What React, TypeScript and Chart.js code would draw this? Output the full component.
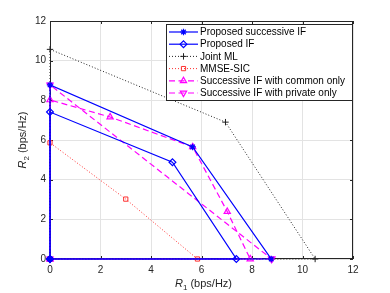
import React, { useEffect, useRef } from "react";
import { Chart, registerables } from "chart.js";
import { drawPoint } from "chart.js/helpers";

Chart.register(...registerables);

const seriesNames = [
  "Proposed successive IF",
  "Proposed IF",
  "Joint ML",
  "MMSE-SIC",
  "Successive IF with common only",
  "Successive IF with private only",
];

const succIF_R1 = [0, 0, 5.65, 8.76, 0];
const succIF_R2 = [0, 8.78, 5.65, 0, 0];

const propIF_R1 = [0, 0, 4.85, 7.38, 0];
const propIF_R2 = [0, 7.41, 4.88, 0, 0];

const jointML_R1 = [0, 0, 6.95, 10.5, 0];
const jointML_R2 = [0, 10.57, 6.9, 0, 0];

const mmse_R1 = [0, 0, 3.0, 5.84, 0];
const mmse_R2 = [0, 5.86, 3.02, 0, 0];

const common_R1 = [0, 0, 2.38, 5.65, 7.02, 7.93, 0];
const common_R2 = [0, 8.02, 7.16, 5.65, 2.39, 0, 0];

const private_R1 = [8.78, 0, 0, 8.78];
const private_R2 = [0, 0, 8.78, 0];

const axisTicks = [0, 2, 4, 6, 8, 10, 12];

const pts = (xs: number[], ys: number[]) => xs.map((x, i) => ({ x, y: ys[i] }));

const FONT = "'Liberation Sans', Arial, Helvetica, sans-serif";

export default function App() {
  const ref = useRef<HTMLCanvasElement | null>(null);

  useEffect(() => {
    document.body.style.margin = "0";
    const canvas = ref.current;
    if (!canvas) return;

    const common = { clip: 6 };
    const datasets: any[] = [
      {
        ...common,
        label: seriesNames[0],
        data: pts(succIF_R1, succIF_R2),
        borderColor: "#0000ff",
        backgroundColor: "#0000ff",
        borderWidth: 1.2,
        pointStyle: "star",
        pointRadius: 3.2,
        pointBorderWidth: 1.2,
        pointRotation: 0,
      },
      {
        ...common,
        label: seriesNames[1],
        data: pts(propIF_R1, propIF_R2),
        borderColor: "#0000ff",
        backgroundColor: "rgba(0,0,0,0)",
        borderWidth: 1.2,
        pointStyle: "rectRot",
        pointRadius: 3.4,
        pointBorderWidth: 1.2,
        pointRotation: 0,
      },
      {
        ...common,
        label: seriesNames[2],
        data: pts(jointML_R1, jointML_R2),
        borderColor: "#222222",
        backgroundColor: "#222222",
        borderWidth: 1,
        borderDash: [1, 2],
        pointStyle: "cross",
        pointRadius: 3.2,
        pointBorderWidth: 1,
        pointRotation: 0,
      },
      {
        ...common,
        label: seriesNames[3],
        data: pts(mmse_R1, mmse_R2),
        borderColor: "#ff3030",
        backgroundColor: "rgba(0,0,0,0)",
        borderWidth: 1,
        borderDash: [1, 2],
        pointStyle: "rect",
        pointRadius: 3,
        pointBorderWidth: 1,
        pointRotation: 0,
      },
      {
        ...common,
        label: seriesNames[4],
        data: pts(common_R1, common_R2),
        borderColor: "#ff00ff",
        backgroundColor: "rgba(0,0,0,0)",
        borderWidth: 1.2,
        borderDash: [6, 3.5],
        pointStyle: "triangle",
        pointRadius: 3.6,
        pointBorderWidth: 1.2,
        pointRotation: 0,
      },
      {
        ...common,
        label: seriesNames[5],
        data: pts(private_R1, private_R2),
        borderColor: "#ff00ff",
        backgroundColor: "rgba(0,0,0,0)",
        borderWidth: 1.2,
        borderDash: [6, 3.5],
        pointStyle: "triangle",
        pointRadius: 3.6,
        pointBorderWidth: 1.2,
        pointRotation: 180,
      },
    ];

    const framePlugin = {
      id: "frame",
      beforeDatasetsDraw(chart: any) {
        const { ctx, chartArea: a } = chart;
        const xs = chart.scales.x;
        const ys = chart.scales.y;
        ctx.save();
        ctx.strokeStyle = "#262626";
        ctx.lineWidth = 1;
        ctx.setLineDash([]);
        ctx.strokeRect(a.left + 0.5, a.top + 0.5, a.right - a.left - 1, a.bottom - a.top - 1);
        const tl = 3;
        ctx.beginPath();
        axisTicks.forEach((t) => {
          const px = Math.round(xs.getPixelForValue(t)) + 0.5;
          ctx.moveTo(px, a.bottom);
          ctx.lineTo(px, a.bottom - tl);
          ctx.moveTo(px, a.top);
          ctx.lineTo(px, a.top + tl);
          const py = Math.round(ys.getPixelForValue(t)) + 0.5;
          ctx.moveTo(a.left, py);
          ctx.lineTo(a.left + tl, py);
          ctx.moveTo(a.right, py);
          ctx.lineTo(a.right - tl, py);
        });
        ctx.stroke();
        ctx.restore();
      },
      afterDraw(chart: any) {
        const { ctx, chartArea: a } = chart;
        ctx.save();
        // axis titles
        ctx.fillStyle = "#262626";
        ctx.textBaseline = "alphabetic";
        const drawTitle = (sub: string) => {
          const italic = `italic 11px ${FONT}`;
          const normal = `11px ${FONT}`;
          const small = `8px ${FONT}`;
          ctx.font = italic;
          const wR = ctx.measureText("R").width;
          ctx.font = small;
          const wS = ctx.measureText(sub).width;
          ctx.font = normal;
          const wT = ctx.measureText(" (bps/Hz)").width;
          const total = wR + wS + wT;
          let x0 = -total / 2;
          ctx.textAlign = "left";
          ctx.font = italic;
          ctx.fillText("R", x0, 0);
          x0 += wR;
          ctx.font = small;
          ctx.fillText(sub, x0, 3);
          x0 += wS;
          ctx.font = normal;
          ctx.fillText(" (bps/Hz)", x0, 0);
        };
        ctx.save();
        ctx.translate((a.left + a.right) / 2 + 2, 287);
        drawTitle("1");
        ctx.restore();
        ctx.save();
        ctx.translate(26, (a.top + a.bottom) / 2);
        ctx.rotate(-Math.PI / 2);
        drawTitle("2");
        ctx.restore();

        // legend
        const lx = 166, ly = 24, lw = 186, lh = 76;
        ctx.fillStyle = "#ffffff";
        ctx.fillRect(lx, ly, lw, lh);
        ctx.strokeStyle = "#262626";
        ctx.lineWidth = 1;
        ctx.strokeRect(lx + 0.5, ly + 0.5, lw, lh);
        ctx.font = `10px ${FONT}`;
        ctx.textAlign = "left";
        ctx.textBaseline = "middle";
        chart.data.datasets.forEach((ds: any, i: number) => {
          const yy = ly + 8 + i * 12.2;
          ctx.save();
          ctx.strokeStyle = ds.borderColor;
          ctx.lineWidth = ds.borderWidth;
          ctx.setLineDash(ds.borderDash || []);
          ctx.beginPath();
          ctx.moveTo(lx + 3, yy);
          ctx.lineTo(lx + 32, yy);
          ctx.stroke();
          ctx.setLineDash([]);
          ctx.strokeStyle = ds.borderColor;
          ctx.fillStyle = ds.backgroundColor;
          ctx.lineWidth = ds.pointBorderWidth;
          drawPoint(ctx, { pointStyle: ds.pointStyle, radius: ds.pointRadius, rotation: ds.pointRotation, borderWidth: ds.pointBorderWidth }, lx + 17.5, yy);
          ctx.restore();
          ctx.fillStyle = "#000000";
          ctx.fillText(ds.label, lx + 34, yy + 0.5);
        });
        ctx.restore();
      },
    };

    const chart = new Chart(canvas, {
      type: "scatter",
      data: { datasets },
      options: {
        animation: false,
        responsive: false,
        showLine: true,
        layout: { padding: { top: 21, right: 37, left: 0, bottom: 0 } },
        plugins: { legend: { display: false }, tooltip: { enabled: false } },
        elements: { line: { tension: 0 } },
        scales: {
          x: {
            type: "linear",
            min: 0,
            max: 12,
            afterFit: (s: any) => { s.height = 34; },
            afterBuildTicks: (s: any) => { s.ticks = axisTicks.map((v) => ({ value: v })); },
            grid: { color: "#e3e3e3", drawTicks: false, lineWidth: 1 },
            border: { display: false },
            ticks: { color: "#262626", font: { family: FONT, size: 10 }, padding: 5, maxRotation: 0 },
          },
          y: {
            type: "linear",
            min: 0,
            max: 12,
            afterFit: (s: any) => { s.width = 50; },
            afterBuildTicks: (s: any) => { s.ticks = axisTicks.map((v) => ({ value: v })); },
            grid: { color: "#e3e3e3", drawTicks: false, lineWidth: 1 },
            border: { display: false },
            ticks: { color: "#262626", font: { family: FONT, size: 10 }, padding: 4 },
          },
        },
      } as any,
      plugins: [framePlugin],
    });

    return () => chart.destroy();
  }, []);

  return (
    <div style={{ width: 390, height: 293, background: "#ffffff" }}>
      <canvas ref={ref} width={390} height={293} style={{ display: "block", width: 390, height: 293 }} />
    </div>
  );
}
